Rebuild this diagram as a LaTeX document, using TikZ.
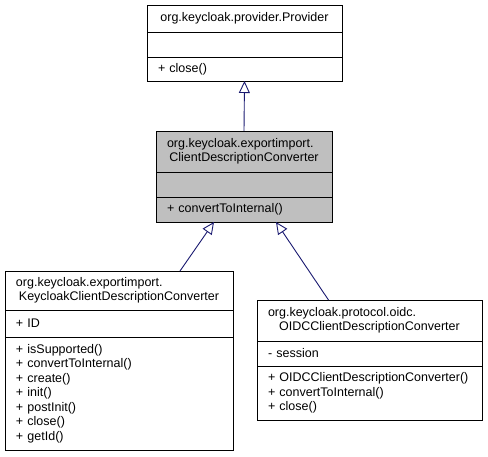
\documentclass[tikz,border=0pt]{standalone}
\usepackage{fontspec}
\setmainfont{Liberation Sans}
\usetikzlibrary{arrows.meta, positioning}

\definecolor{classfill}{HTML}{BFBFBF}
\definecolor{edgeblue}{HTML}{191970}

\tikzset{
  part/.style={draw=black, line width=0.9pt, rectangle, anchor=north west, outer sep=0pt,
    inner xsep=11pt, inner ysep=0pt, align=left, font=\fontsize{12.5}{14.5}\selectfont},
  current/.style={fill=classfill},
  inherit/.style={draw=edgeblue, line width=0.9pt,
    -{Triangle[open, length=12pt, width=11pt, fill=white]}}
}

\begin{document}
\begin{tikzpicture}[x=1pt, y=-1pt]
            \useasboundingbox (0,0) rectangle (488,456);

            \node[part, text width=173pt, minimum height=27pt, align=center] (provider title) at (147,5) {org.keycloak.provider.Provider};
            \node[part, text width=173pt, minimum height=25pt] (provider attr) at (provider title.south west) {};
            \node[part, text width=173pt, minimum height=24pt] (provider ops) at (provider attr.south west) {+ close()};

            \node[part, current, text width=154pt, minimum height=41pt, align=center] (cdc title) at (156,131) {\makebox[\linewidth][l]{org.keycloak.exportimport.}\\ClientDescriptionConverter};
            \node[part, current, text width=154pt, minimum height=25pt] (cdc attr) at (cdc title.south west) {};
            \node[part, current, text width=154pt, minimum height=25pt] (cdc ops) at (cdc attr.south west) {+ convertToInternal()};

            \node[part, text width=206pt, minimum height=39pt, align=center] (kcdc title) at (5,271) {\makebox[\linewidth][l]{org.keycloak.exportimport.}\\KeycloakClientDescriptionConverter};
            \node[part, text width=206pt, minimum height=27pt] (kcdc attr) at (kcdc title.south west) {+ ID};
            \node[part, text width=206pt, minimum height=113pt] (kcdc ops) at (kcdc attr.south west) {+ isSupported()\\+ convertToInternal()\\+ create()\\+ init()\\+ postInit()\\+ close()\\+ getId()};

            \node[part, text width=203pt, minimum height=41pt, align=center] (oidc title) at (257,300) {\makebox[\linewidth][l]{org.keycloak.protocol.oidc.}\\OIDCClientDescriptionConverter};
            \node[part, text width=203pt, minimum height=25pt] (oidc attr) at (oidc title.south west) {- session};
            \node[part, text width=203pt, minimum height=54pt] (oidc ops) at (oidc attr.south west) {+ OIDCClientDescriptionConverter()\\+ convertToInternal()\\+ close()};

            \draw[inherit] (cdc title.north) -- (provider ops.south);
            \draw[inherit] ([xshift=61pt]kcdc title.north) -- ([xshift=-30pt]cdc ops.south);
            \draw[inherit] ([xshift=-41pt]oidc title.north) -- ([xshift=32pt]cdc ops.south);
        \end{tikzpicture}
\end{document}
